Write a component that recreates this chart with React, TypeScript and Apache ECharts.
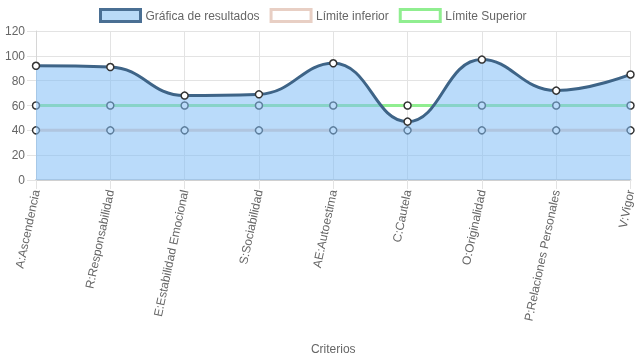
import React, { useEffect, useRef } from "react";
import * as echarts from "echarts";

const categories = [
  "A:Ascendencia",
  "R:Responsabilidad",
  "E:Estabilidad Emocional",
  "S:Sociabilidad",
  "AE:Autoestima",
  "C:Cautela",
  "O:Originalidad",
  "P:Relaciones Personales",
  "V:Vigor",
];
const resultados = [92, 91, 68, 69, 94, 47, 97, 72, 85];
const limiteInferior = [40, 40, 40, 40, 40, 40, 40, 40, 40];
const limiteSuperior = [60, 60, 60, 60, 60, 60, 60, 60, 60];
const seriesNames = ["Gráfica de resultados", "Límite inferior", "Límite Superior"];

const FONT = "'Liberation Sans', Arial, Helvetica, sans-serif";
const TXT = "#666";

export default function App() {
  const ref = useRef<HTMLDivElement>(null);
  useEffect(() => {
    if (!ref.current) return;
    const chart = echarts.init(ref.current, undefined, { renderer: "svg" });
    const pointStyle = { color: "#fff", borderColor: "#333", borderWidth: 1.5 };
    chart.setOption({
      animation: false,
      textStyle: { fontFamily: FONT },
      legend: {
        top: 3,
        left: 94,
        itemWidth: 40,
        itemHeight: 12,
        itemGap: 10,
        icon: "rect",
        textStyle: { color: TXT, fontSize: 12, fontFamily: FONT },
        data: [
          {
            name: seriesNames[0],
            itemStyle: { color: "#b9daf7", borderColor: "#4a6f93", borderWidth: 3 },
          },
          {
            name: seriesNames[1],
            itemStyle: { color: "#fff", borderColor: "#e8cfc4", borderWidth: 3 },
          },
          {
            name: seriesNames[2],
            itemStyle: { color: "#fff", borderColor: "#90ee90", borderWidth: 3 },
          },
        ],
      },
      grid: { left: 36, right: 4, top: 31, bottom: 179, containLabel: false },
      xAxis: {
        type: "category",
        data: categories,
        boundaryGap: false,
        name: "Criterios",
        nameLocation: "middle",
        nameGap: 163,
        nameTextStyle: { color: TXT, fontSize: 12, fontFamily: FONT },
        axisLine: { show: true, lineStyle: { color: "#d0d0d0", width: 2 } },
        axisTick: { show: true, length: 9, lineStyle: { color: "#e3e3e3" } },
        axisLabel: {
          rotate: 78,
          margin: 10,
          color: TXT,
          fontSize: 12,
          fontFamily: FONT,
          interval: 0,
        },
        splitLine: { show: true, lineStyle: { color: "#e3e3e3" } },
      },
      yAxis: {
        type: "value",
        min: 0,
        max: 120,
        interval: 20,
        axisLine: { show: true, lineStyle: { color: "#d6d6d6" } },
        axisTick: { show: true, length: 9, lineStyle: { color: "#e3e3e3" } },
        axisLabel: { color: TXT, fontSize: 12, fontFamily: FONT, margin: 11 },
        splitLine: { show: true, lineStyle: { color: "#e3e3e3" } },
      },
      series: [
        {
          name: seriesNames[1],
          type: "line",
          data: limiteInferior,
          z: 1,
          symbol: "circle",
          symbolSize: 7,
          showAllSymbol: true,
          lineStyle: { color: "#e8cfc4", width: 3 },
          itemStyle: pointStyle,
        },
        {
          name: seriesNames[2],
          type: "line",
          data: limiteSuperior,
          z: 1,
          symbol: "circle",
          symbolSize: 7,
          showAllSymbol: true,
          lineStyle: { color: "#90ee90", width: 3 },
          itemStyle: pointStyle,
        },
        {
          name: seriesNames[0],
          type: "line",
          data: resultados,
          z: 10,
          smooth: 0.45,
          symbol: "circle",
          symbolSize: 7,
          showAllSymbol: true,
          lineStyle: { color: "#3e6487", width: 3 },
          itemStyle: pointStyle,
          areaStyle: { color: "rgba(130,190,245,0.55)", opacity: 1, origin: "start" },
        },
      ],
    });
    return () => chart.dispose();
  }, []);
  return (
    <div
      ref={ref}
      style={{ position: "fixed", left: 0, top: 0, width: 637, height: 359 }}
    />
  );
}
